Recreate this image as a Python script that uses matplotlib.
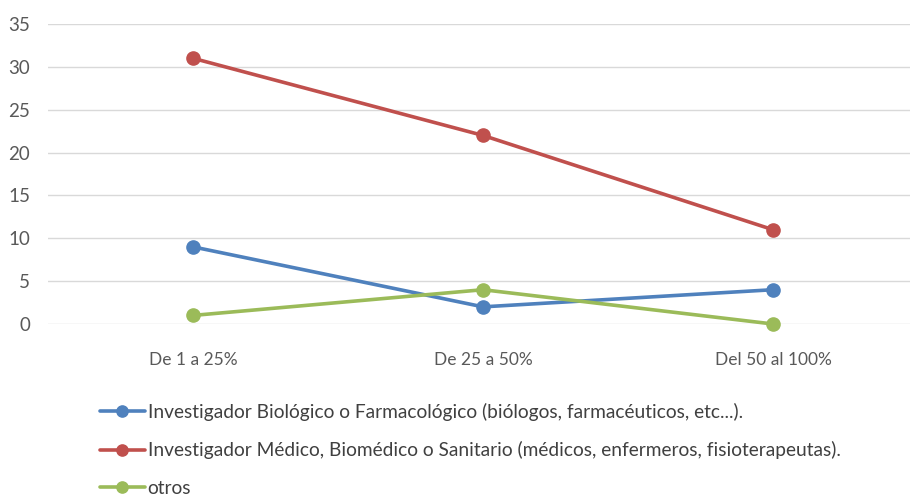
import matplotlib.pyplot as plt
from matplotlib.ticker import MultipleLocator

categories = ['De 1 a 25%', 'De 25 a 50%', 'Del 50 al 100%']
biologico = [9, 2, 4]
medico = [31, 22, 11]
otros = [1, 4, 0]

labels = [
    'Investigador Biológico o Farmacológico (biólogos, farmacéuticos, etc...).',
    'Investigador Médico, Biomédico o Sanitario (médicos, enfermeros, fisioterapeutas).',
    'otros',
]
colors = ['#4F81BD', '#C0504D', '#9BBB59']

plt.rcParams['font.family'] = ['Lato', 'DejaVu Sans']

W, H = 910, 495
fig = plt.figure(figsize=(W / 100, H / 100), dpi=100)
ax = fig.add_axes([48 / W, 1 - 324 / H, (W - 48) / W, 300 / H])

x = range(len(categories))
for vals, lab, col in zip([biologico, medico, otros], labels, colors):
    ax.plot(x, vals, color=col, lw=2.6, marker='o', markersize=9.5, label=lab,
            solid_capstyle='round', clip_on=False)

ax.set_xlim(-0.5, -0.5 + 3 * (W - 48) / 870)
ax.set_ylim(0, 35)
ax.yaxis.set_major_locator(MultipleLocator(5))
ax.set_xticks(list(x))
ax.set_xticklabels(categories)
ax.grid(axis='y', color='#D9D9D9', lw=1)
ax.set_axisbelow(True)
for s in ax.spines.values():
    s.set_visible(False)
ax.tick_params(length=0, labelsize=12.5, labelcolor='#595959')
ax.tick_params(axis='y', labelsize=13.5, pad=13)
ax.tick_params(axis='x', pad=20)

handles, labs = ax.get_legend_handles_labels()
fig.legend(handles, labs, loc='upper left', bbox_to_anchor=(92 / W, 1 - 395 / H),
           frameon=False, fontsize=13.8, handlelength=2.35, handletextpad=0.15,
           labelspacing=1.07, markerscale=0.85, labelcolor='#404040',
           borderaxespad=0)

fig.savefig('out.png', dpi=100)
